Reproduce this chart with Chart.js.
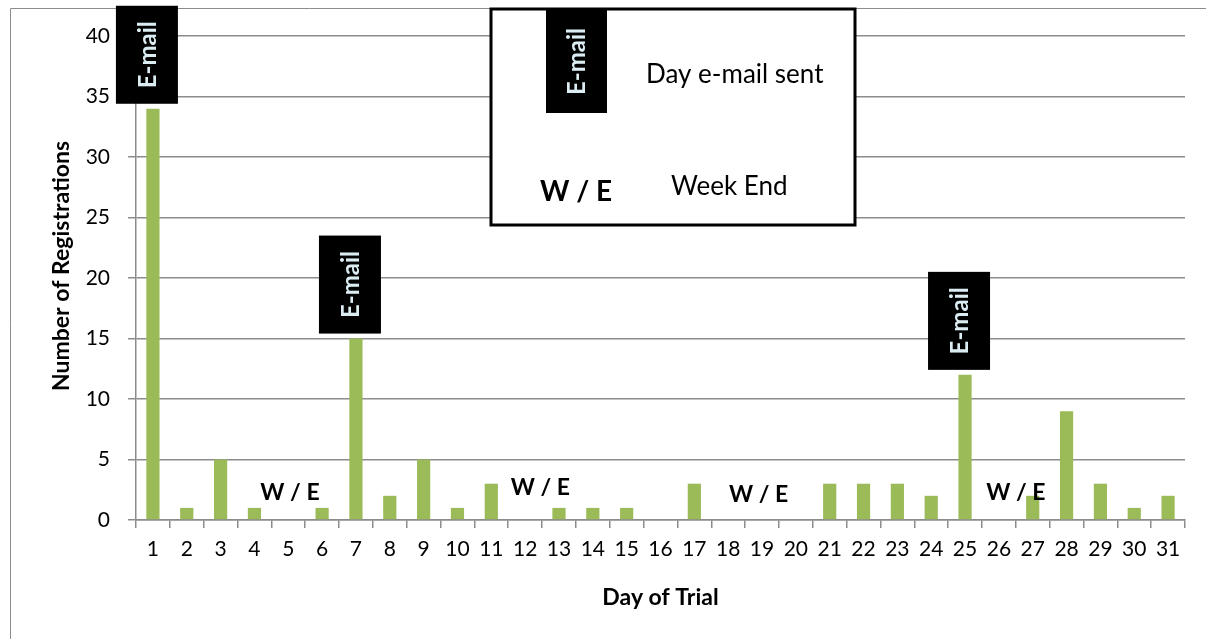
<!DOCTYPE html>
<html>
<head>
<meta charset="utf-8">
<script src="https://cdn.jsdelivr.net/npm/chart.js@4"></script>
<style>
  body { margin: 0; background: #fff; }
  canvas { display: block; }
</style>
</head>
<body>
<canvas id="regChart" width="1206" height="639"></canvas>
<script>
  // data
  const days = [1, 2, 3, 4, 5, 6, 7, 8, 9, 10, 11, 12, 13, 14, 15, 16, 17, 18, 19, 20, 21, 22, 23, 24, 25, 26, 27, 28, 29, 30, 31];
  const registrations = [34, 1, 5, 1, 0, 1, 15, 2, 5, 1, 3, 0, 1, 1, 1, 0, 3, 0, 0, 0, 3, 3, 3, 2, 12, 0, 2, 9, 3, 1, 2];
  const yTicks = [0, 5, 10, 15, 20, 25, 30, 35, 40];

  // annotations
  const emailDays = [1, 7, 25];
  const weekendDay = [5.05, 12.45, 18.9, 26.5];
  const weekendLevel = [2.3, 2.7, 2.1, 2.3];

  const FONT = "Lato, 'Open Sans', sans-serif";
  const GRID = "#8c8c8c";

  //Black tag with the rotated E-mail text
  const emailTag = (c, left, top, w, h) => {
    c.fillStyle = "#000";
    c.fillRect(left, top, w, h);
    c.save();
    c.translate(left + w / 2, top + h / 2);
    c.rotate(-Math.PI / 2);
    c.fillStyle = "#dbecf2";
    c.font = "bold 24px " + FONT;
    c.textAlign = "center";
    c.textBaseline = "middle";
    c.fillText("E-mail", 0, 1);
    c.restore();
  };

  const notes = {
    id: "notes",
    beforeDraw(chart) {
      const c = chart.ctx;
      c.save();
      c.strokeStyle = GRID;
      c.lineWidth = 1;
      c.beginPath();
      c.moveTo(10.5, 639);
      c.lineTo(10.5, 8.5);
      c.lineTo(1206, 8.5);
      c.stroke();
      c.restore();
    },
    afterDraw(chart) {
      const c = chart.ctx;
      const x = chart.scales.x;
      const y = chart.scales.y;
      c.save();

      // E-mail tags above the bars
      emailDays.forEach((d) => {
        const i = days.indexOf(d);
        const cx = x.getPixelForValue(i) - 6;
        const bottom = y.getPixelForValue(registrations[i]) - 5;
        emailTag(c, cx - 31, bottom - 98, 62, 98);
      });

      // weekend labels
      c.fillStyle = "#000";
      c.font = "bold 23px " + FONT;
      c.textAlign = "center";
      c.textBaseline = "middle";
      weekendDay.forEach((d, k) => {
        c.fillText("W / E", x.getPixelForValue(d - 1), y.getPixelForValue(weekendLevel[k]));
      });

      // key box
      c.fillStyle = "#fff";
      c.fillRect(491, 9, 364, 216);
      c.strokeStyle = "#000";
      c.lineWidth = 3;
      c.strokeRect(491, 9, 364, 216);
      emailTag(c, 546, 10, 61, 103);
      c.fillStyle = "#000";
      c.font = "26px " + FONT;
      c.textAlign = "left";
      c.fillText("Day e-mail sent", 646, 75);
      c.fillText("Week End", 671, 187);
      c.font = "bold 28px " + FONT;
      c.textAlign = "center";
      c.fillText("W / E", 576, 192);
      c.restore();
    },
  };

  window.addEventListener("load", () => {
    const ctx = document.getElementById("regChart");
    new Chart(ctx, {
      type: "bar",
      data: {
        labels: days.map(String),
        datasets: [
          {
            label: "Registrations",
            data: registrations,
            backgroundColor: "#9bbb59",
            barPercentage: 0.39,
            categoryPercentage: 1,
          },
        ],
      },
      options: {
        responsive: false,
        animation: false,
        devicePixelRatio: 1,
        layout: { padding: { left: 10, top: 12, right: 21, bottom: 0 } },
        plugins: { legend: { display: false }, tooltip: { enabled: false } },
        scales: {
          x: {
            grid: { drawOnChartArea: false, offset: true, tickLength: 8, color: GRID, lineWidth: 1.5 },
            border: { color: GRID, width: 1.5 },
            ticks: { font: { family: FONT, size: 21 }, color: "#000", padding: 9, maxRotation: 0, autoSkip: false },
            title: {
              display: true,
              text: "Day of Trial",
              font: { family: FONT, size: 23, weight: "bold" },
              color: "#000",
              padding: { top: 0, bottom: 28 },
            },
            afterFit: (s) => { s.height = 119; s.paddingLeft = 0; s.paddingRight = 0; },
          },
          y: {
            min: 0,
            max: 42,
            ticks: { stepSize: 5, font: { family: FONT, size: 21 }, color: "#000", padding: 18 },
            afterBuildTicks: (s) => { s.ticks = yTicks.map((v) => ({ value: v })); },
            grid: { color: GRID, lineWidth: 1.5, tickLength: 8 },
            border: { color: GRID, width: 1.5 },
            title: {
              display: true,
              text: "Number of Registrations",
              font: { family: FONT, size: 23, weight: "bold" },
              color: "#000",
              padding: { top: 38, bottom: 0 },
            },
            afterFit: (s) => { s.width = 126; s.paddingTop = 0; s.paddingBottom = 0; },
          },
        },
      },
      plugins: [notes],
    });
  });
</script>
</body>
</html>
